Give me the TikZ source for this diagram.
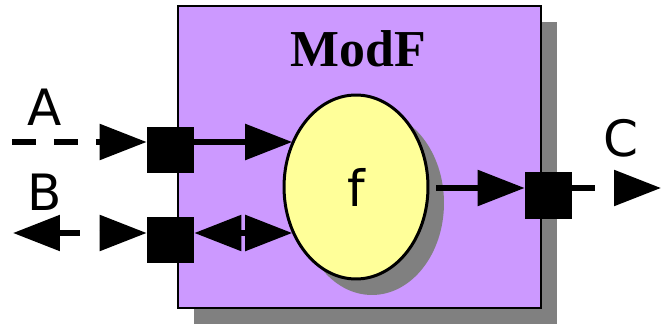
\documentclass[tikz,border=0pt]{standalone}
\usepackage{fontspec}
\newfontfamily\lblfont{DejaVu Sans}
\newfontfamily\titlefont{Liberation Serif}
\usetikzlibrary{arrows.meta,shapes.geometric,shadows}
\definecolor{modpurple}{HTML}{CC99FF}
\definecolor{fyellow}{HTML}{FFFF99}
\definecolor{shgray}{HTML}{808080}
\tikzset{
  modbox/.style={draw=black, line width=0.04cm, fill=modpurple, minimum width=7.26cm, minimum height=6.04cm, inner sep=0pt,
    drop shadow={shadow xshift=0.32cm, shadow yshift=-0.32cm, fill=shgray, opacity=1}},
  funcnode/.style={ellipse, draw=black, line width=0.06cm, fill=fyellow, minimum width=2.88cm, minimum height=3.68cm, inner sep=0pt,
    drop shadow={shadow xshift=0.32cm, shadow yshift=-0.32cm, fill=shgray, opacity=1}},
  portbox/.style={fill=black, minimum size=0.94cm, inner sep=0pt},
  lbl/.style={inner sep=0pt, font=\lblfont\fontsize{28.5}{30}\selectfont},
  ttl/.style={inner sep=0pt, font=\titlefont\bfseries\fontsize{29.5}{32}\selectfont},
  conn/.style={line width=0.11cm, -{Triangle[length=0.94cm,width=0.70cm]}},
  bconn/.style={line width=0.11cm, {Triangle[length=0.94cm,width=0.70cm]}-{Triangle[length=0.94cm,width=0.70cm]}},
  dsh/.style={dash pattern=on 0.48cm off 0.36cm},
}
\begin{document}
\begin{tikzpicture}[x=0.02cm, y=-0.02cm]
\useasboundingbox (0,0) rectangle (661,327);
\node[modbox] (mod) at (359.5,157) {};
\node[ttl] (title) at (358,49) {ModF};
\node[funcnode] (f) at (356,187) {};
\node[lbl] (flbl) at (356,187) {f};
\node[portbox] (p1) at (170.5,150) {};
\node[portbox] (p2) at (170.5,240) {};
\node[portbox] (p3) at (548.5,195.5) {};
\node[lbl] (la) at (45,107) {A};
\node[lbl] (lb) at (45,192) {B};
\node[lbl] (lc) at (621,138) {C};
\coordinate (aS) at (12,142);
\coordinate (bS) at (13,233);
\coordinate (cE) at (661,188);
\draw[conn, dsh] (aS) -- (aS -| p1.west);
\draw[conn] (aS -| p1.east) -- (f.144.5 |- aS);
\draw[bconn, dash pattern=on 0.42cm off 0.4cm] (bS) -- (bS -| p2.west);
\draw[bconn] (bS -| p2.east) -- (f.216.6 |- bS);
\draw[conn] ([xshift=0.14cm]f.east |- cE) -- (cE -| p3.west);
\draw[conn, dash pattern=on 0.46cm off 0.38cm] (cE -| p3.east) -- (cE);
\end{tikzpicture}
\end{document}
